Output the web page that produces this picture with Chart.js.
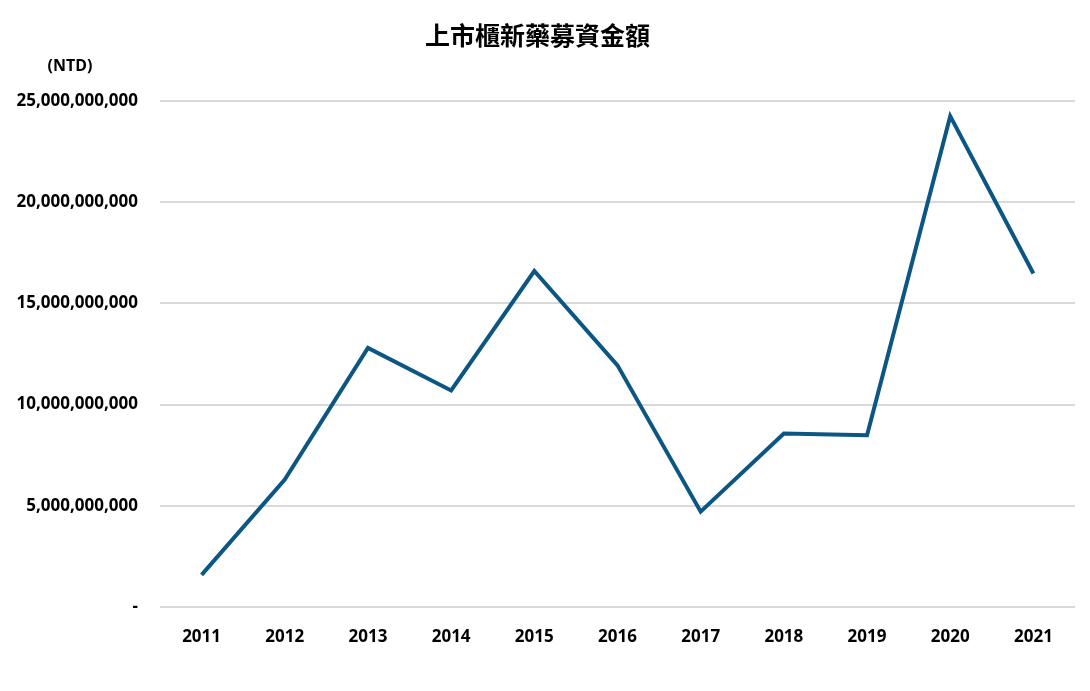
<!DOCTYPE html>
<html>
<head>
<meta charset="utf-8">
<script src="https://cdn.jsdelivr.net/npm/chart.js@4"></script>
<style>
    html, body { margin: 0; padding: 0; background: #ffffff; }
    #wrap { width: 1090px; height: 691px; }
</style>
</head>
<body>
<div id="wrap"><canvas id="fundChart" width="1090" height="691"></canvas></div>
<script>
// Data
const years = ['2011', '2012', '2013', '2014', '2015', '2016', '2017', '2018', '2019', '2020', '2021'];
const amounts = [1590000000, 6300000000, 12800000000, 10700000000, 16600000000, 11940000000,
                 4710000000, 8570000000, 8490000000, 24250000000, 16480000000];
const yTicks = [0, 5000000000, 10000000000, 15000000000, 20000000000, 25000000000];

const titleText = '上市櫃新藥募資金額';
const unitText = '(NTD)';
const tickFont = { family: '"Noto Sans", sans-serif', size: 17, weight: 'bold' };

// Unit label above the y axis
const unitLabel = {
    id: 'unitLabel',
    afterDraw(chart) {
        const ctx = chart.ctx;
        ctx.save();
        ctx.font = 'bold 16px "Noto Sans", sans-serif';
        ctx.fillStyle = '#000000';
        ctx.textAlign = 'center';
        ctx.textBaseline = 'middle';
        ctx.fillText(unitText, 70, 66);
        ctx.restore();
    }
};

const ctx = document.getElementById('fundChart').getContext('2d');
const fundChart = new Chart(ctx, {
    type: 'line',
    data: {
        labels: years,
        datasets: [{
            label: titleText,
            data: amounts,
            borderColor: '#0b5682',
            borderWidth: 4,
            pointRadius: 0,
            tension: 0,
            fill: false
        }]
    },
    options: {
        responsive: false,
        animation: false,
        layout: { padding: { left: 0, right: 15, top: 0, bottom: 0 } },
        plugins: {
            legend: { display: false },
            tooltip: { enabled: false },
            title: {
                display: true,
                text: titleText,
                color: '#000000',
                font: { family: '"Noto Sans CJK TC", sans-serif', size: 25, weight: 'bold' },
                padding: { top: 20, bottom: 51 }
            }
        },
        scales: {
            x: {
                offset: true,
                grid: { display: false },
                border: { display: false },
                ticks: { color: '#000000', font: tickFont, padding: 12, maxRotation: 0 },
                afterFit(scale) { scale.height = 84; }
            },
            y: {
                min: 0,
                max: 25000000000,
                afterBuildTicks(scale) { scale.ticks = yTicks.map(v => ({ value: v })); },
                grid: { color: '#d9d9d9', lineWidth: 2, drawTicks: false },
                border: { display: false },
                ticks: {
                    color: '#000000',
                    font: tickFont,
                    padding: 22,
                    callback: v => v === 0 ? '-' : v.toLocaleString('en-US')
                },
                afterFit(scale) { scale.width = 160; }
            }
        }
    },
    plugins: [unitLabel]
});
</script>
</body>
</html>
